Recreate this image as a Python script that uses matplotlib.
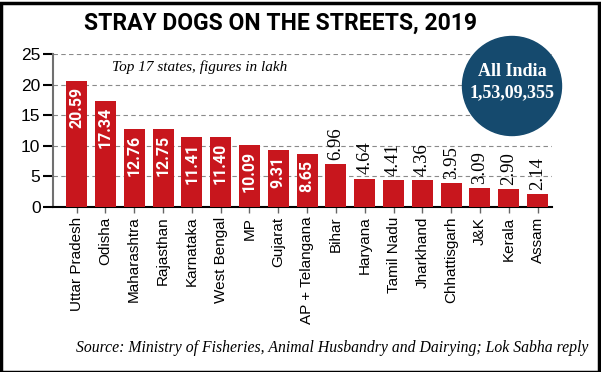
import matplotlib.pyplot as plt
from matplotlib.patches import Ellipse, Rectangle

states = ['Uttar Pradesh', 'Odisha', 'Maharashtra', 'Rajasthan', 'Karnataka',
          'West Bengal', 'MP', 'Gujarat', 'AP + Telangana', 'Bihar', 'Haryana',
          'Tamil Nadu', 'Jharkhand', 'Chhattisgarh', 'J&K', 'Kerala', 'Assam']
dogs_lakh = [20.59, 17.34, 12.76, 12.75, 11.41, 11.40, 10.09, 9.31, 8.65,
             6.96, 4.64, 4.41, 4.36, 3.95, 3.09, 2.90, 2.14]
y_ticks = [0, 5, 10, 15, 20, 25]

red = '#c8161d'
navy = '#154a6e'

fig = plt.figure(figsize=(6.01, 3.72), dpi=100)
W, H = 601, 372
ax = fig.add_axes([53 / W, 1 - 207 / H, (552 - 53) / W, (207 - 54) / H])

x = range(len(states))
ax.bar(x, dogs_lakh, width=0.73, color=red, zorder=3)

# labels: big bars get white text inside, small ones black text on top
for i, v in enumerate(dogs_lakh):
    if v >= 8:
        ax.text(i, v - 0.9, f'{v:.2f}', rotation=90, ha='center', va='top',
                color='white', fontsize=11.5, fontweight='bold',
                family='Roboto', zorder=4)
    else:
        ax.text(i, v + 0.7, f'{v:.2f}', rotation=90, ha='center', va='bottom',
                color='black', fontsize=13.5, family='Liberation Serif', zorder=4)

ax.set_xlim(-0.82, 16.5)
ax.set_ylim(0, 25)
ax.set_yticks(y_ticks)
ax.set_xticks(list(x))
ax.set_xticklabels(states, rotation=90, fontsize=11, family='Liberation Sans')
ax.tick_params(axis='y', labelsize=12.5, length=7, width=1.5, pad=2)
ax.tick_params(axis='x', length=4, width=1, color='#666666', pad=3)
for lab in ax.get_yticklabels():
    lab.set_family('Liberation Sans')

ax.yaxis.grid(True, linestyle=(0, (4, 3)), color='#8a8a8a', linewidth=0.8, zorder=0)
for s in ['top', 'right']:
    ax.spines[s].set_visible(False)
ax.spines['left'].set_color('#707070')
ax.spines['left'].set_linewidth(1.5)
ax.spines['bottom'].set_linewidth(1.5)

fig.text(280 / W, 1 - 23 / H, 'STRAY DOGS ON THE STREETS, 2019', ha='center',
         va='center', fontsize=16.5, fontweight='bold', family='Roboto')
fig.text(200 / W, 1 - 67 / H, 'Top 17 states, figures in lakh', ha='center',
         va='center', fontsize=11, style='italic', family='Liberation Serif')
fig.text(588 / W, 1 - 348 / H,
         'Source: Ministry of Fisheries, Animal Husbandry and Dairying; Lok Sabha reply',
         ha='right', va='center', fontsize=11.3, style='italic', family='Liberation Serif')

# All India circle
fig.add_artist(Ellipse((512 / W, 1 - 86 / H), 99 / W, 99 / H,
                       transform=fig.transFigure, color=navy, zorder=5))
fig.text(512 / W, 1 - 72 / H, 'All India', ha='center', va='center', color='white',
         fontsize=13, fontweight='bold', family='Liberation Serif', zorder=6)
fig.text(512 / W, 1 - 93 / H, '1,53,09,355', ha='center', va='center', color='white',
         fontsize=13, fontweight='bold', family='Liberation Serif', zorder=6)

# black frame
fig.add_artist(Rectangle((0.5 / W, 0.5 / H), 1 - 3 / W, 1 - 3 / H, transform=fig.transFigure,
                         fill=False, edgecolor='black', linewidth=2.5))

fig.savefig('out.png', dpi=100)
